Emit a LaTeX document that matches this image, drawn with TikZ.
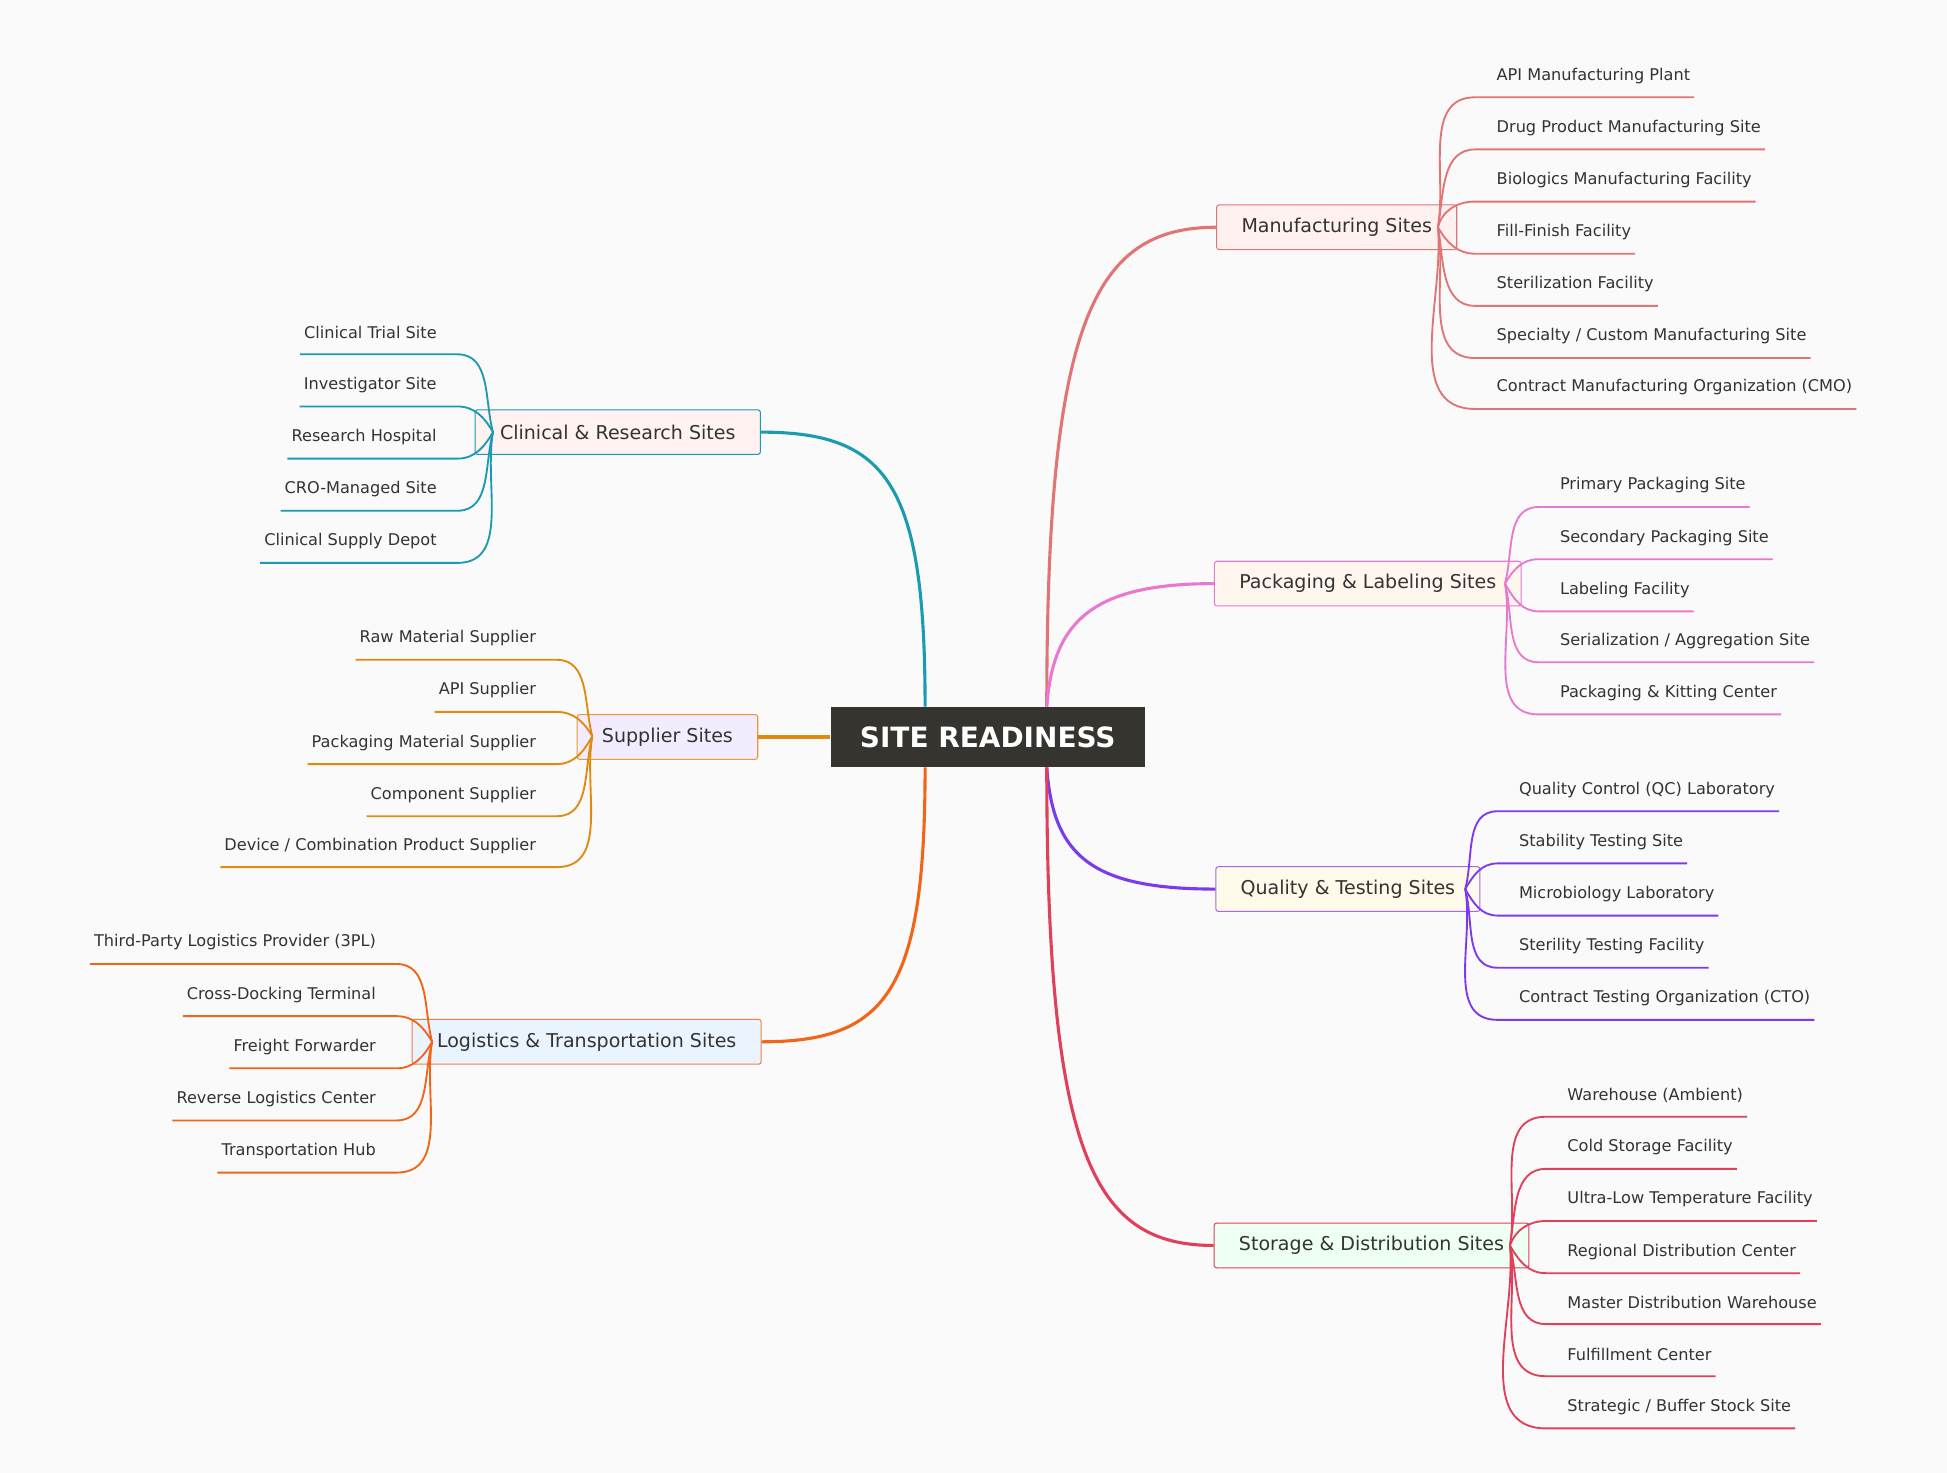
\documentclass[tikz,border=0pt]{standalone}
\usepackage{fontspec}
\setmainfont{DejaVu Sans}
\definecolor{bg}{HTML}{FAFAFA}
\definecolor{txt}{HTML}{333333}
\definecolor{rootc}{HTML}{35342F}
\definecolor{cMan}{HTML}{E07575}\definecolor{fMan}{HTML}{FFF1F0}
\definecolor{cPack}{HTML}{E879D0}\definecolor{fPack}{HTML}{FFF6EE}
\definecolor{cQual}{HTML}{7C3AED}\definecolor{fQual}{HTML}{FFFBEA}\definecolor{bQual}{HTML}{A866E0}
\definecolor{cStor}{HTML}{E0405A}\definecolor{fStor}{HTML}{EEFFF3}
\definecolor{cClin}{HTML}{1A9BB2}\definecolor{fClin}{HTML}{FFF2F0}
\definecolor{cSup}{HTML}{E08A10}\definecolor{fSup}{HTML}{F3ECFF}\definecolor{bSup}{HTML}{E59A3A}
\definecolor{cLog}{HTML}{F26418}\definecolor{fLog}{HTML}{EAF4FF}\definecolor{bLog}{HTML}{F08040}
\tikzset{
  leaf/.style={inner xsep=1.8pt,inner ysep=0pt,minimum height=20.4pt,text=txt,font=\fontsize{7.8}{9}\selectfont},
  parent/.style={draw,rounded corners=1.2pt,line width=0.5pt,minimum height=21.6pt,inner xsep=12pt,text=txt,font=\fontsize{9.2}{11}\selectfont},
  main/.style={line width=1.5pt},
  twig/.style={line width=0.9pt},
  branch/.style={}
}
\newcommand\leafR[6]{%
  \node[leaf,anchor=west] (#1) at (#3,#4) {#5};
  \draw[twig,branch] (#2) to[out=#6,in=180] ([xshift=-8.4pt]#1.south west) -- (#1.south east);}
\newcommand\leafL[6]{%
  \node[leaf,anchor=east] (#1) at (#3,#4) {#5};
  \draw[twig,branch] (#2) to[out=#6,in=0] ([xshift=8pt]#1.south east) -- (#1.south west);}
\begin{document}
\begin{tikzpicture}[x=0.6pt,y=-0.6pt]
\fill[bg] (0,0) rectangle (1568,1186);
\useasboundingbox (0,0) rectangle (1568,1186);
\node[fill=rootc,text=white,font=\bfseries\fontsize{13.5}{16}\selectfont,minimum width=151.8pt,minimum height=29.4pt] (root) at (795.5,593.5) {SITE READINESS};
% parents
\node[parent,draw=cMan,fill=fMan,minimum width=112.2pt] (man) at (1076.5,183) {Manufacturing Sites};
\node[parent,draw=cPack,fill=fPack,minimum width=142.2pt] (pack) at (1101.5,470) {Packaging \& Labeling Sites};
\node[parent,draw=bQual,fill=fQual,minimum width=123pt] (qual) at (1085.5,716) {Quality \& Testing Sites};
\node[parent,draw=cStor,fill=fStor,minimum width=145.8pt] (stor) at (1104.5,1003) {Storage \& Distribution Sites};
\node[parent,draw=cClin,fill=fClin,minimum width=132.6pt] (clin) at (497.5,348) {Clinical \& Research Sites};
\node[parent,draw=bSup,fill=fSup,minimum width=84.6pt] (sup) at (537.5,593.5) {Supplier Sites};
\node[parent,draw=bLog,fill=fLog,minimum width=161.4pt] (log) at (472.5,839) {Logistics \& Transportation Sites};
% main branches
\coordinate (rtl) at (745,569); \coordinate (rbl) at (745,618);
\coordinate (rtr) at (843,569); \coordinate (rbr) at (843,618);
\draw[main,cClin] (rtl) .. controls (745,390) and (715,348) .. (clin.east);
\draw[main,cSup] (root.west) -- (sup.east);
\draw[main,cLog] (rbl) .. controls (745,797) and (715,839) .. (log.east);
\draw[main,cMan] (rtr) .. controls (843,260) and (880,183) .. (man.west);
\draw[main,cPack] (rtr) .. controls (848,500) and (880,470) .. (pack.west);
\draw[main,cQual] (rbr) .. controls (848,690) and (880,716) .. (qual.west);
\draw[main,cStor] (rbr) .. controls (843,930) and (880,1003) .. (stor.west);
% Manufacturing
\begin{scope}[branch/.style={cMan}]
\coordinate (pm) at (1158,183);
\leafR{m1}{pm}{1202}{61}{API Manufacturing Plant}{80}
\leafR{m2}{pm}{1202}{103}{Drug Product Manufacturing Site}{80}
\leafR{m3}{pm}{1202}{145}{Biologics Manufacturing Facility}{75}
\leafR{m4}{pm}{1202}{187}{Fill-Finish Facility}{-60}
\leafR{m5}{pm}{1202}{229}{Sterilization Facility}{-80}
\leafR{m6}{pm}{1202}{271}{Specialty / Custom Manufacturing Site}{-80}
\leafR{m7}{pm}{1202}{312}{Contract Manufacturing Organization (CMO)}{-85}
\end{scope}
\begin{scope}[branch/.style={cPack}]
\coordinate (pp) at (1212,470);
\leafR{p1}{pp}{1253}{391}{Primary Packaging Site}{75}
\leafR{p2}{pp}{1253}{433}{Secondary Packaging Site}{60}
\leafR{p3}{pp}{1253}{475}{Labeling Facility}{-60}
\leafR{p4}{pp}{1253}{516}{Serialization / Aggregation Site}{-75}
\leafR{p5}{pp}{1253}{558}{Packaging \& Kitting Center}{-80}
\end{scope}
\begin{scope}[branch/.style={cQual}]
\coordinate (pq) at (1180,716);
\leafR{q1}{pq}{1220}{636}{Quality Control (QC) Laboratory}{75}
\leafR{q2}{pq}{1220}{678}{Stability Testing Site}{60}
\leafR{q3}{pq}{1220}{720}{Microbiology Laboratory}{-60}
\leafR{q4}{pq}{1220}{762}{Sterility Testing Facility}{-75}
\leafR{q5}{pq}{1220}{804}{Contract Testing Organization (CTO)}{-80}
\end{scope}
\begin{scope}[branch/.style={cStor}]
\coordinate (ps) at (1216,1003);
\leafR{s1}{ps}{1259}{882}{Warehouse (Ambient)}{80}
\leafR{s2}{ps}{1259}{924}{Cold Storage Facility}{80}
\leafR{s3}{ps}{1259}{966}{Ultra-Low Temperature Facility}{70}
\leafR{s4}{ps}{1259}{1008}{Regional Distribution Center}{-60}
\leafR{s5}{ps}{1259}{1049}{Master Distribution Warehouse}{-75}
\leafR{s6}{ps}{1259}{1091}{Fulfillment Center}{-80}
\leafR{s7}{ps}{1259}{1133}{Strategic / Buffer Stock Site}{-85}
\end{scope}
\begin{scope}[branch/.style={cClin}]
\coordinate (pc) at (397,348);
\leafL{c1}{pc}{355}{268}{Clinical Trial Site}{105}
\leafL{c2}{pc}{355}{310}{Investigator Site}{120}
\leafL{c3}{pc}{355}{352}{Research Hospital}{-120}
\leafL{c4}{pc}{355}{394}{CRO-Managed Site}{-105}
\leafL{c5}{pc}{355}{436}{Clinical Supply Depot}{-100}
\end{scope}
\begin{scope}[branch/.style={cSup}]
\coordinate (pu) at (477,593);
\leafL{u1}{pu}{435}{514}{Raw Material Supplier}{105}
\leafL{u2}{pu}{435}{556}{API Supplier}{120}
\leafL{u3}{pu}{435}{598}{Packaging Material Supplier}{-120}
\leafL{u4}{pu}{435}{640}{Component Supplier}{-105}
\leafL{u5}{pu}{435}{681}{Device / Combination Product Supplier}{-100}
\end{scope}
\begin{scope}[branch/.style={cLog}]
\coordinate (pl) at (348,839);
\leafL{l1}{pl}{306}{759}{Third-Party Logistics Provider (3PL)}{105}
\leafL{l2}{pl}{306}{801}{Cross-Docking Terminal}{120}
\leafL{l3}{pl}{306}{843}{Freight Forwarder}{-120}
\leafL{l4}{pl}{306}{885}{Reverse Logistics Center}{-105}
\leafL{l5}{pl}{306}{927}{Transportation Hub}{-100}
\end{scope}
\end{tikzpicture}
\end{document}
